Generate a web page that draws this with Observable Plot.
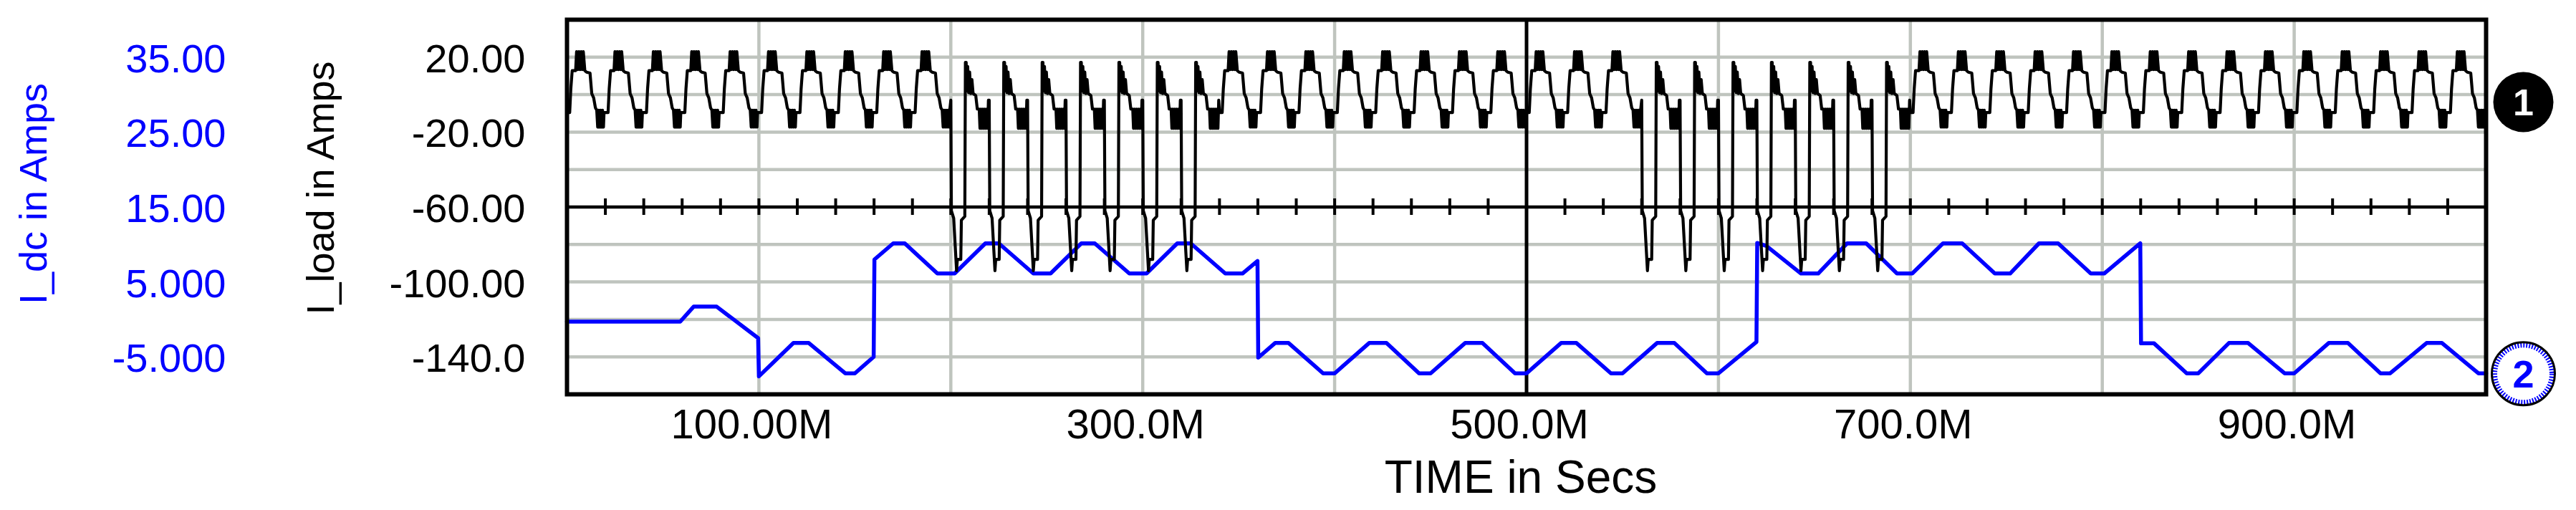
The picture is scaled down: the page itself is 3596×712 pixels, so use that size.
<!DOCTYPE html>
<html>
<head>
<meta charset="utf-8">
<script src="https://cdn.jsdelivr.net/npm/d3@7"></script>
<script src="https://cdn.jsdelivr.net/npm/@observablehq/plot@0.6"></script>
<style>
  html, body { margin: 0; padding: 0; background: #ffffff; }
  #chart svg { display: block; }
</style>
</head>
<body>
<div id="chart"></div>
<script>
// ---------- data ----------
// time axis (M = milliseconds as printed)
const xTickValues = [100, 300, 500, 700, 900];
const xTickLabels = ["100.00M", "300.0M", "500.0M", "700.0M", "900.0M"];
const gridTimes = [100, 200, 300, 400, 600, 700, 800, 900];

// I_load axis (black, left inner)
const loadTickValues = [20, -20, -60, -100, -140];
const loadTickLabels = ["20.00", "-20.00", "-60.00", "-100.00", "-140.0"];
const loadGrid = [20, 0, -20, -40, -80, -100, -120, -140];

// I_dc axis (blue, left outer)
const dcTickValues = [35, 25, 15, 5, -5];
const dcTickLabels = ["35.00", "25.00", "15.00", "5.000", "-5.000"];

// I_load: one ordinary 20M cycle (time offset in M, amps)
const normalCycleTau = [0, 1.4, 2.0, 2.7, 4.5, 5.0, 5.6, 6.2, 6.8, 7.4, 8.0, 8.5,
  9.3, 10.2, 12.0, 12.9, 13.9, 14.8, 15.5, 16.0, 16.5, 17.0, 17.5, 18.0, 18.5, 19.0, 19.3];
const normalCycleAmp = [-9.6, -9.6, 3.2, 12.8, 12.8, 22.9, 13.4, 22.9, 13.4, 22.9, 13.4, 22.9,
  12.8, 12.0, 11.5, 0.6, -1.7, -7.0, -8.3, -17.3, -8.3, -17.3, -8.3, -17.3, -8.3, -17.3, -9.6];

// I_load: one 20M cycle with the deep negative spike
const spikeCycleTau = [0, 0.3, 1.5, 3.0, 3.4, 5.2, 5.5, 7.3, 7.6, 8.0, 8.4, 8.8, 9.3, 9.8, 10.4, 11.0, 11.6,
  13.0, 13.8, 14.8, 15.2, 15.7, 16.2, 16.7, 17.2, 17.7, 18.2, 18.7, 19.2, 19.6];
const spikeCycleAmp = [-3, -62, -66, -94, -88, -88, -67, -65, 17.2, 17.2, 2, 15, 1, 12, 0.6, 8, 0.6,
  -0.5, -7.7, -7.7, -18, -7.7, -18, -7.7, -18, -7.7, -18, -7.7, -18, -3];

// kind of each of the 50 cycles (0M .. 980M): n = ordinary, s = spike
const loadCycleKinds = [
  "n","n","n","n","n","n","n","n","n","n",
  "s","s","s","s","s","s","s",
  "n","n","n","n","n","n","n","n","n","n","n",
  "s","s","s","s","s","s","s",
  "n","n","n","n","n","n","n","n","n","n","n","n","n","n","n"
];

// I_dc trace (blue): time in M, amps
const dcTime = [0, 59, 66, 78, 99.6,
  100, 118, 126, 145, 150, 159.8,
  160.2, 170, 176, 193, 202, 218, 225, 243, 252, 268, 275, 293, 302, 318, 325, 343, 352, 359.8,
  360.2, 369, 376, 394, 400, 418, 427, 444, 450, 468, 477, 494, 500, 518, 526, 544, 550, 568, 577, 594, 600, 619.8,
  620.2, 625, 643, 652, 667, 677, 693, 701, 717, 727, 744, 752, 767, 777, 794, 801, 819.8,
  820.2, 827, 844, 850, 866, 876, 895, 900, 918, 928, 945, 950, 969, 977, 996, 1000];
const dcAmps = [-0.3, -0.3, 1.7, 1.7, -2.5,
  -7.6, -3.15, -3.15, -7.2, -7.2, -5.0,
  8.0, 10.15, 10.15, 6.13, 6.13, 10.15, 10.15, 6.13, 6.13, 10.15, 10.15, 6.13, 6.13, 10.15, 10.15, 6.13, 6.13, 7.8,
  -5.1, -3.15, -3.15, -7.2, -7.2, -3.15, -3.15, -7.2, -7.2, -3.15, -3.15, -7.2, -7.2, -3.15, -3.15, -7.2, -7.2, -3.15, -3.15, -7.2, -7.2, -3.0,
  10.2, 9.8, 6.13, 6.13, 10.15, 10.15, 6.13, 6.13, 10.15, 10.15, 6.13, 6.13, 10.15, 10.15, 6.13, 6.13, 10.15,
  -3.2, -3.2, -7.2, -7.2, -3.15, -3.15, -7.2, -7.2, -3.15, -3.15, -7.2, -7.2, -3.15, -3.15, -7.2, -7.2];

// trace end markers
const markerLabels = ["1", "2"];
const markerLoadValue = -4;     // trace 1 marker level (I_load units)
const markerDcValue = -7.25;    // trace 2 marker level (I_dc units)

// ---------- build tables ----------
const CYCLE = 20;
const X_MAX = 1000;
const dcToLoad = v => 4 * (v - 30);   // I_dc axis mapped onto the I_load scale (35 <-> 20, -5 <-> -140)

const loadData = [];
loadCycleKinds.forEach((kind, k) => {
  const tau = kind === "s" ? spikeCycleTau : normalCycleTau;
  const amp = kind === "s" ? spikeCycleAmp : normalCycleAmp;
  tau.forEach((d, j) => {
    const t = k * CYCLE + d;
    if (t <= X_MAX) loadData.push({t, v: amp[j]});
  });
});

const dcData = dcTime.map((t, i) => ({t, v: dcToLoad(dcAmps[i])}));
const axisTicks = d3.range(CYCLE, X_MAX, CYCLE);

const xLabelMap = new Map(xTickValues.map((d, i) => [d, xTickLabels[i]]));
const loadLabelMap = new Map(loadTickValues.map((d, i) => [d, loadTickLabels[i]]));
const dcLabelMap = new Map(dcTickValues.map((d, i) => [dcToLoad(d), dcTickLabels[i]]));

const GRID = "#bfc4be";
const BLUE = "#0000ff";
const FONT = "'Liberation Sans', Arial, Helvetica, sans-serif";
const AXIS_LEVEL = -60;
const TICK_HALF = 4.4;

const chart = Plot.plot({
  width: 3596,
  height: 712,
  marginLeft: 791,
  marginRight: 126,
  marginTop: 27,
  marginBottom: 162,
  x: {domain: [0, X_MAX]},
  y: {domain: [-160, 40]},
  style: {fontFamily: FONT, background: "#ffffff", color: "#000", overflow: "visible"},
  marks: [
    Plot.ruleY(loadGrid, {stroke: GRID, strokeWidth: 4.5}),
    Plot.ruleX(gridTimes, {stroke: GRID, strokeWidth: 4.5}),
    Plot.ruleX([X_MAX / 2], {stroke: "#000", strokeWidth: 5}),
    Plot.ruleY([AXIS_LEVEL], {stroke: "#000", strokeWidth: 4.5}),
    Plot.ruleX(axisTicks, {y1: AXIS_LEVEL - TICK_HALF, y2: AXIS_LEVEL + TICK_HALF, stroke: "#000", strokeWidth: 4}),
    Plot.line(dcData, {x: "t", y: "v", stroke: BLUE, strokeWidth: 5.5, curve: "linear"}),
    Plot.line(loadData, {x: "t", y: "v", stroke: "#000", strokeWidth: 4.2, curve: "linear"}),
    Plot.frame({stroke: "#000", strokeWidth: 6}),
    Plot.axisX({ticks: xTickValues, tickFormat: d => xLabelMap.get(d), tickSize: 0, tickPadding: 20,
      fontSize: 58, dx: -10, label: null}),
    Plot.axisY({ticks: loadTickValues, tickFormat: d => loadLabelMap.get(d), anchor: "left",
      tickSize: 0, tickPadding: 58, fontSize: 56, dy: 3, label: null}),
    Plot.axisY({ticks: dcTickValues.map(dcToLoad), tickFormat: d => dcLabelMap.get(d), anchor: "left",
      tickSize: 0, tickPadding: 476, fontSize: 56, dy: 3, fill: BLUE, color: BLUE, label: null}),
    Plot.text(["I_dc in Amps"], {frameAnchor: "left", textAnchor: "middle", lineAnchor: "middle",
      dx: -744, dy: -18.5, rotate: -90, fontSize: 54, fill: BLUE}),
    Plot.text(["I_load in Amps"], {frameAnchor: "left", textAnchor: "middle", lineAnchor: "middle",
      dx: -343, dy: -26.5, rotate: -90, fontSize: 54, fill: "#000"}),
    Plot.text(["TIME in Secs"], {frameAnchor: "bottom", textAnchor: "middle", lineAnchor: "middle",
      dx: -8, dy: 117, fontSize: 64, fill: "#000"}),
    // end markers
    Plot.dot([markerLoadValue], {y: d => d, frameAnchor: "right", dx: 52, r: 42, fill: "#000", stroke: "none"}),
    Plot.text([markerLoadValue], {y: d => d, frameAnchor: "right", textAnchor: "middle", lineAnchor: "middle",
      dx: 52, dy: 2, text: () => markerLabels[0], fill: "#ffffff", fontSize: 52, fontWeight: "bold"}),
    Plot.dot([dcToLoad(markerDcValue)], {y: d => d, frameAnchor: "right", dx: 52, r: 40, fill: "#ffffff",
      stroke: BLUE, strokeWidth: 7, strokeDasharray: "2,2"}),
    Plot.dot([dcToLoad(markerDcValue)], {y: d => d, frameAnchor: "right", dx: 52, r: 44, fill: "none",
      stroke: "#000", strokeWidth: 3}),
    Plot.text([dcToLoad(markerDcValue)], {y: d => d, frameAnchor: "right", textAnchor: "middle", lineAnchor: "middle",
      dx: 52, dy: 2, text: () => markerLabels[1], fill: BLUE, fontSize: 54, fontWeight: "bold"})
  ]
});

document.getElementById("chart").appendChild(chart);
</script>
</body>
</html>
